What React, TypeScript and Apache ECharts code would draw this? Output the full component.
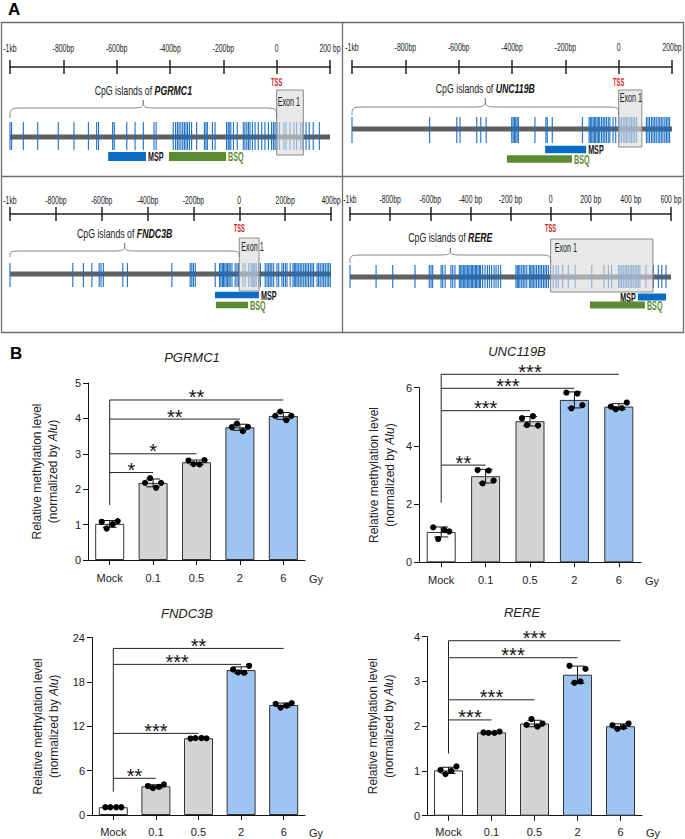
import React, { useEffect, useRef } from 'react';
import * as echarts from 'echarts';

const FONT = '"Liberation Sans", Arial, sans-serif';

// ---------------- Panel A data ----------------
const geneNames = ['PGRMC1', 'UNC119B', 'FNDC3B', 'RERE'];
const rulerMaxBp = [200, 200, 400, 600];
const rulerLabelsPGRMC1 = ['-1kb', '-800bp', '-600bp', '-400bp', '-200bp', '0', '200 bp'];
const rulerLabelsUNC119B = ['-1kb', '-800bp', '-600bp', '-400bp', '-200bp', '0', '200bp'];
const rulerLabelsFNDC3B = ['-1kb', '-800bp', '-600bp', '-400bp', '-200bp', '0', '200bp', '400bp'];
const rulerLabelsRERE = ['-1kb', '-800bp', '-600bp', '-400 bp', '-200 bp', '0', '200 bp', '400 bp', '600 bp'];

const cpgPGRMC1 = [-1000, -994, -950, -896, -819, -760, -706, -675, -668, -615, -609, -562, -531, -500, -460, -452,
  -388, -379, -372, -366, -359, -352, -346, -340, -334, -327, -319, -300, -271, -265, -260, -241, -231, -188, -182,
  -178, -172, -162, -148, -125, -119, -112, -106, -100, -91, -81, -69, -56, -44, -31, -19, -12, -6, 2, 10, 27, 35,
  50, 65, 75, 90, 97, 110, 122, 137, 160];
const cpgUNC119B = [-1000, -709, -607, -595, -532, -517, -497, -401, -396, -391, -386, -381, -376, -314, -273, -268,
  -249, -136, -111, -106, -101, -96, -91, -86, -81, -76, -71, -64, -58, -52, -46, -39, -33, -21, -11, 4, 10, 17, 23,
  29, 35, 42, 48, 54, 60, 67, 104, 110, 116, 123, 129, 135, 141, 148, 154, 160, 166, 173, 179, 185, 191];
const cpgFNDC3B = [-1000, -726, -680, -643, -611, -603, -593, -508, -488, -294, -214, -207, -200, -192, -105, -86,
  -80, -74, -69, -63, -57, -51, -45, -40, -32, -18, -10, -3, 16, 26, 41, 51, 57, 63, 68, 74, 84, 92, 113, 121, 128,
  135, 142, 150, 164, 172, 186, 193, 201, 208, 222, 234, 240, 246, 252, 259, 266, 273, 281, 288, 295, 302, 310, 317,
  324, 339, 346, 353, 361, 368, 375, 383, 390, 397];
const cpgRERE = [-1000, -870, -787, -676, -605, -596, -588, -546, -538, -526, -497, -488, -477, -455, -448, -442,
  -435, -428, -422, -415, -408, -402, -395, -389, -382, -375, -369, -362, -355, -349, -339, -327, -315, -305, -294,
  -282, -272, -261, -249, -173, -166, -159, -153, -144, -136, -128, -119, -106, -99, -93, -86, -78, -70, -61, -53,
  -45, -36, -28, -20, -11, 13, 27, 38, 60, 88, 122, 205, 266, 288, 304, 338, 346, 354, 362, 371, 379, 387, 396, 404,
  412, 421, 429, 437, 445, 475, 512, 537, 554, 575];

const exonPGRMC1 = [0, 100];
const exonUNC119B = [0, 87];
const exonFNDC3B = [0, 86];
const exonRERE = [0, 510];
const mspPGRMC1 = [-632, -490];
const mspUNC119B = [-276, -122];
const mspFNDC3B = [-106, 86];
const mspRERE = [435, 575];
const bsqPGRMC1 = [-404, -190];
const bsqUNC119B = [-419, -175];
const bsqFNDC3B = [-102, 38];
const bsqRERE = [196, 470];
const cpgIslandSpan = [-1000, 0];
const tssBp = 0;

const rulerLabels = [rulerLabelsPGRMC1, rulerLabelsUNC119B, rulerLabelsFNDC3B, rulerLabelsRERE];
const cpgSites = [cpgPGRMC1, cpgUNC119B, cpgFNDC3B, cpgRERE];
const exons = [exonPGRMC1, exonUNC119B, exonFNDC3B, exonRERE];
const msps = [mspPGRMC1, mspUNC119B, mspFNDC3B, mspRERE];
const bsqs = [bsqPGRMC1, bsqUNC119B, bsqFNDC3B, bsqRERE];

// layout (pixel offsets below each ruler)
const quadLayout = [
  { left: 10, width: 320, rulerY: 67, labelDy: -19, tssDy: 15, textDy: 23, braceTip: 33, braceMid: 41, braceEnd: 51, exonTop: 23, exonBot: 88, exonTextDy: 35, exonTextDx: 1, chromDy: 70, tickTop: 55, tickBot: 83, mspDy: 89.5, bsqDy: 89.5, barH: 9, mspLabelLeft: false },
  { left: 352, width: 320, rulerY: 67, labelDy: -20, tssDy: 15, textDy: 21, braceTip: 31, braceMid: 40, braceEnd: 48, exonTop: 23, exonBot: 80, exonTextDy: 31, exonTextDx: 1, chromDy: 62, tickTop: 50, tickBot: 76, mspDy: 82.5, bsqDy: 92, barH: 7.5, mspLabelLeft: false },
  { left: 10, width: 321, rulerY: 214, labelDy: -14, tssDy: 14, textDy: 19, braceTip: 29, braceMid: 37, braceEnd: 43, exonTop: 24, exonBot: 77, exonTextDy: 33, exonTextDx: 2, chromDy: 60, tickTop: 49, tickBot: 73, mspDy: 81, bsqDy: 91, barH: 6.5, mspLabelLeft: false },
  { left: 350, width: 321, rulerY: 214, labelDy: -15, tssDy: 14, textDy: 23, braceTip: 34, braceMid: 41, braceEnd: 49, exonTop: 25, exonBot: 78, exonTextDy: 34, exonTextDx: 4, chromDy: 63, tickTop: 51, tickBot: 74, mspDy: 83, bsqDy: 91, barH: 7, mspLabelLeft: true },
];

// ---------------- Panel B data ----------------
const doses = ['Mock', '0.1', '0.5', '2', '6'];
const barTitles = ['PGRMC1', 'UNC119B', 'FNDC3B', 'RERE'];
const pgrmc1Points = [[1.08, 0.89, 1.01, 1.10], [2.18, 2.31, 2.04, 2.18], [2.81, 2.71, 2.70, 2.82], [3.75, 3.85, 3.64, 3.76], [4.07, 4.19, 3.95, 4.07]];
const unc119bPoints = [[1.2, 0.8, 1.11, 1.06], [3.17, 2.71, 3.15, 2.81], [4.95, 4.72, 5.02, 4.70], [5.83, 5.29, 5.8, 5.4], [5.35, 5.26, 5.30, 5.49]];
const fndc3bPoints = [[1.05, 1.05, 1.05, 1.05], [3.92, 3.65, 3.8, 4.15], [10.35, 10.4, 10.42, 10.38], [19.7, 19.3, 19.25, 20.2], [15.05, 14.55, 14.8, 15.15]];
const rerePoints = [[1.02, 0.93, 1.0, 1.1], [1.86, 1.85, 1.85, 1.88], [2.03, 2.16, 1.99, 2.06], [3.35, 2.97, 3.0, 3.28], [2.02, 1.94, 1.98, 2.06]];
const allPoints = [pgrmc1Points, unc119bPoints, fndc3bPoints, rerePoints];

const yMaxes = [5, 6, 24, 4];
const yIntervals = [1, 2, 6, 1];

const sigTargets = [1, 2, 3, 4];
const pgrmc1SigLevels = [2.47, 3.0, 3.98, 4.52];
const unc119bSigLevels = [3.34, 5.21, 5.98, 6.46];
const fndc3bSigLevels = [4.97, 11.05, 20.39, 22.55];
const rereSigLevels = [2.14, 2.59, 3.53, 3.91];
const pgrmc1SigMarks = ['*', '*', '**', '**'];
const unc119bSigMarks = ['**', '***', '***', '***'];
const fndc3bSigMarks = ['**', '***', '***', '**'];
const rereSigMarks = ['***', '***', '***', '***'];
const sigBases = [1.55, 2.05, 3.15, 1.39];
const sigLevels = [pgrmc1SigLevels, unc119bSigLevels, fndc3bSigLevels, rereSigLevels];
const sigMarks = [pgrmc1SigMarks, unc119bSigMarks, fndc3bSigMarks, rereSigMarks];

const barColors = ['#ffffff', '#d4d4d4', '#d4d4d4', '#9ec4f2', '#9ec4f2'];
const dotOffsets = [-8, -3, 3, 8];

const barLayout = [
  { left: 88, top: 383, width: 217, height: 177, nameGap: 27, titleX: 192, titleY: 357, xMargin: 12 },
  { left: 419, top: 387.7, width: 222, height: 174.6, nameGap: 21, titleX: 517, titleY: 351, xMargin: 12 },
  { left: 92, top: 637.7, width: 213, height: 177.3, nameGap: 30, titleX: 187, titleY: 613, xMargin: 11 },
  { left: 427, top: 636.7, width: 215, height: 179, nameGap: 30, titleX: 522, titleY: 612, xMargin: 11 },
];

function mean(a: number[]) { return a.reduce((s, v) => s + v, 0) / a.length; }
function sd(a: number[]) { const m = mean(a); return Math.sqrt(a.reduce((s, v) => s + (v - m) * (v - m), 0) / (a.length - 1)); }

function txt(x: number, y: number, text: string, o: any, scaleX = 1) {
  return {
    type: 'text', x, y, scaleX,
    style: {
      text, fontFamily: FONT, fill: o.fill || '#222', fontSize: o.fontSize || 12,
      fontWeight: o.fontWeight || 'normal', fontStyle: o.fontStyle || 'normal',
      align: o.align || 'center', verticalAlign: o.verticalAlign || 'middle',
      textAlign: o.align || 'center', textVerticalAlign: o.verticalAlign || 'middle',
      rich: o.rich,
    },
  };
}

function quadrantSeries(q: number) {
  const L = quadLayout[q];
  const base: any = { type: 'custom', xAxisIndex: 2 * q, yAxisIndex: q, silent: true, clip: false };
  const s: any[] = [];
  // ruler labels
  s.push({
    ...base, z: 5,
    data: rulerLabels[q].map((_, i) => [-1000 + 200 * i, 0, i]),
    renderItem: (p: any, api: any) => {
      const c = api.coord([api.value(0), 0]);
      return txt(c[0], c[1] + L.labelDy, rulerLabels[q][api.value(2)], { fontSize: 11.5 }, 0.6);
    },
  });
  // chromosome line
  s.push({
    ...base, z: 2,
    data: [[-1000, rulerMaxBp[q]]],
    renderItem: (p: any, api: any) => {
      const a = api.coord([api.value(0), L.chromDy]);
      const b = api.coord([api.value(1), L.chromDy]);
      return { type: 'rect', shape: { x: a[0], y: a[1] - 2.5, width: b[0] - a[0], height: 5 }, style: { fill: '#606060' } };
    },
  });
  // CpG sites
  s.push({
    ...base, z: 3,
    data: cpgSites[q].map((v) => [v, 0]),
    renderItem: (p: any, api: any) => {
      const a = api.coord([api.value(0), L.tickTop]);
      const b = api.coord([api.value(0), L.tickBot]);
      return { type: 'line', shape: { x1: a[0], y1: a[1], x2: b[0], y2: b[1] }, style: { stroke: '#1b6fc4', lineWidth: 1.1 } };
    },
  });
  // exon box
  s.push({
    ...base, z: 4,
    data: [[exons[q][0], exons[q][1]]],
    renderItem: (p: any, api: any) => {
      const a = api.coord([api.value(0), L.exonTop]);
      const b = api.coord([api.value(1), L.exonBot]);
      return {
        type: 'group', children: [
          { type: 'rect', shape: { x: a[0], y: a[1], width: b[0] - a[0], height: b[1] - a[1] }, style: { fill: 'rgba(218,218,218,0.62)', stroke: '#8a8a8a', lineWidth: 1 } },
          txt(a[0] + L.exonTextDx, L.rulerY + L.exonTextDy, 'Exon 1', { fontSize: 12, align: 'left' }, 0.6),
        ],
      };
    },
  });
  // primers
  s.push({
    ...base, z: 5,
    data: [[msps[q][0], msps[q][1], 0], [bsqs[q][0], bsqs[q][1], 1]],
    renderItem: (p: any, api: any) => {
      const k = api.value(2);
      const dy = k === 0 ? L.mspDy : L.bsqDy;
      const a = api.coord([api.value(0), dy]);
      const b = api.coord([api.value(1), dy]);
      const color = k === 0 ? '#0b6cc5' : '#5b8c32';
      const label = k === 0 ? 'MSP' : 'BSQ';
      const leftLabel = k === 0 && L.mspLabelLeft;
      return {
        type: 'group', children: [
          { type: 'rect', shape: { x: a[0], y: a[1] - L.barH / 2, width: b[0] - a[0], height: L.barH }, style: { fill: color } },
          txt(leftLabel ? a[0] - 2 : b[0] + 2, a[1] + 0.5, label,
            { fontSize: 12, fontWeight: 'bold', fill: k === 0 ? '#111' : '#5b8c32', align: leftLabel ? 'right' : 'left' }, 0.6),
        ],
      };
    },
  });
  // brace + label
  s.push({
    ...base, z: 5,
    data: [[cpgIslandSpan[0], cpgIslandSpan[1]]],
    renderItem: (p: any, api: any) => {
      const x0 = api.coord([api.value(0), 0])[0];
      const x1 = api.coord([api.value(1), 0])[0];
      const xc = (x0 + x1) / 2;
      const yT = L.rulerY + L.braceTip, yM = L.rulerY + L.braceMid, yE = L.rulerY + L.braceEnd;
      const r = 16;
      const d = `M${x0},${yE} C${x0},${yM} ${x0},${yM} ${x0 + r},${yM} L${xc - r},${yM} C${xc},${yM} ${xc},${yM} ${xc},${yT} ` +
        `C${xc},${yM} ${xc},${yM} ${xc + r},${yM} L${x1 - r},${yM} C${x1},${yM} ${x1},${yM} ${x1},${yE}`;
      return {
        type: 'group', children: [
          { type: 'path', shape: { pathData: d }, style: { fill: 'none', stroke: '#777', lineWidth: 0.9 } },
          txt(xc, L.rulerY + L.textDy, `{n|CpG islands of }{b|${geneNames[q]}}`, {
            rich: {
              n: { fontSize: 12, fontFamily: FONT, fill: '#222' },
              b: { fontSize: 12, fontFamily: FONT, fontWeight: 'bold', fontStyle: 'italic', fill: '#111' },
            },
          }, 0.73),
        ],
      };
    },
  });
  // TSS
  s.push({
    ...base, z: 5,
    data: [[tssBp, 0]],
    renderItem: (p: any, api: any) => {
      const c = api.coord([api.value(0), L.tssDy]);
      return txt(c[0], c[1], 'TSS', { fontSize: 11, fontWeight: 'bold', fill: '#d21f1f' }, 0.52);
    },
  });
  return s;
}

function barSeries(i: number) {
  const pts = allPoints[i];
  const means = pts.map(mean);
  const sds = pts.map(sd);
  const xi = 8 + i, yi = 4 + i;
  const levels = sigLevels[i];
  const marks = sigMarks[i];
  return [
    {
      type: 'bar', xAxisIndex: xi, yAxisIndex: yi, barWidth: 29, z: 2,
      data: means.map((m, k) => ({ value: m, itemStyle: { color: barColors[k], borderColor: '#333', borderWidth: 1 } })),
    },
    {
      type: 'custom', xAxisIndex: xi, yAxisIndex: yi, z: 3, clip: false, silent: true,
      data: means.map((m, k) => [k, m, sds[k]]),
      renderItem: (p: any, api: any) => {
        const k = api.value(0), m = api.value(1), s = api.value(2);
        const t = api.coord([k, m + s]);
        const b = api.coord([k, m - s]);
        const w = 7;
        const st = { stroke: '#111', lineWidth: 1 };
        return {
          type: 'group', children: [
            { type: 'line', shape: { x1: t[0], y1: t[1], x2: b[0], y2: b[1] }, style: st },
            { type: 'line', shape: { x1: t[0] - w, y1: t[1], x2: t[0] + w, y2: t[1] }, style: st },
            { type: 'line', shape: { x1: b[0] - w, y1: b[1], x2: b[0] + w, y2: b[1] }, style: st },
          ],
        };
      },
    },
    {
      type: 'custom', xAxisIndex: xi, yAxisIndex: yi, z: 4, clip: false, silent: true,
      data: pts.flatMap((arr, k) => arr.map((v, j) => [k, v, j])),
      renderItem: (p: any, api: any) => {
        const c = api.coord([api.value(0), api.value(1)]);
        return { type: 'circle', shape: { cx: c[0] + dotOffsets[api.value(2)], cy: c[1], r: 3.1 }, style: { fill: '#000' } };
      },
    },
    {
      type: 'custom', xAxisIndex: xi, yAxisIndex: yi, z: 3, clip: false, silent: true,
      data: [[0, sigBases[i], Math.max(...levels)]],
      renderItem: (p: any, api: any) => {
        const a = api.coord([api.value(0), api.value(1)]);
        const b = api.coord([api.value(0), api.value(2)]);
        return { type: 'line', shape: { x1: a[0], y1: a[1], x2: b[0], y2: b[1] }, style: { stroke: '#222', lineWidth: 1 } };
      },
    },
    {
      type: 'custom', xAxisIndex: xi, yAxisIndex: yi, z: 3, clip: false, silent: true,
      data: levels.map((lv, j) => [sigTargets[j], lv, j]),
      renderItem: (p: any, api: any) => {
        const a = api.coord([0, api.value(1)]);
        const b = api.coord([api.value(0), api.value(1)]);
        return {
          type: 'group', children: [
            { type: 'line', shape: { x1: a[0], y1: a[1], x2: b[0], y2: b[1] }, style: { stroke: '#222', lineWidth: 1 } },
            txt((a[0] + b[0]) / 2, a[1] - 2.5, marks[api.value(2)], { fontSize: 20, fill: '#111' }),
          ],
        };
      },
    },
  ];
}

export default function App() {
  const ref = useRef<HTMLDivElement>(null);
  useEffect(() => {
    document.body.style.margin = '0';
    if (!ref.current) return;
    const chart = echarts.init(ref.current, null, { renderer: 'svg' });

    const grids: any[] = [];
    const xAxes: any[] = [];
    const yAxes: any[] = [];
    quadLayout.forEach((L, q) => {
      grids.push({ left: L.left, top: L.rulerY, width: L.width, height: 110, containLabel: false, outerBoundsMode: 'none' });
      const ax: any = {
        type: 'value', gridIndex: q, position: 'top', min: -1000, max: rulerMaxBp[q], interval: 200,
        axisLabel: { show: false }, splitLine: { show: false },
      };
      xAxes.push({ ...ax, axisLine: { show: true, lineStyle: { color: '#222', width: 1.5 } }, axisTick: { show: true, inside: false, length: 7, lineStyle: { color: '#222', width: 1.5 } } });
      xAxes.push({ ...ax, axisLine: { show: false }, axisTick: { show: true, inside: true, length: 7, lineStyle: { color: '#222', width: 1.5 } } });
    });
    quadLayout.forEach((L, q) => {
      yAxes.push({ type: 'value', gridIndex: q, min: 0, max: 110, inverse: true, show: false });
    });
    barLayout.forEach((B, i) => {
      const gi = 4 + i;
      grids.push({ left: B.left, top: B.top, width: B.width, height: B.height, containLabel: false, outerBoundsMode: 'none' });
      xAxes.push({
        type: 'category', gridIndex: gi, data: doses, position: 'bottom', boundaryGap: true,
        axisLine: { show: true, onZero: false, lineStyle: { color: '#111', width: 1 } },
        axisTick: { show: true, alignWithLabel: true, length: 5, lineStyle: { color: '#111' } },
        axisLabel: { fontSize: 11, color: '#222', margin: B.xMargin, fontFamily: FONT, interval: 0 },
        splitLine: { show: false },
        name: 'Gy', nameLocation: 'end', nameGap: 4,
        nameTextStyle: { fontSize: 11, color: '#222', fontFamily: FONT, verticalAlign: 'top', padding: [B.xMargin + 1, 0, 0, 0] },
      });
      yAxes.push({
        type: 'value', gridIndex: gi, min: 0, max: yMaxes[i], interval: yIntervals[i],
        axisLine: { show: true, lineStyle: { color: '#111', width: 1 } },
        axisTick: { show: true, length: 5, lineStyle: { color: '#111' } },
        axisLabel: { fontSize: 11, color: '#222', margin: 7, fontFamily: FONT },
        splitLine: { show: false },
        name: 'Relative methylation level\n(normalized by {i|Alu})',
        nameLocation: 'middle', nameRotate: 90, nameGap: B.nameGap, nameMoveOverlap: false,
        nameTextStyle: {
          fontSize: 12, color: '#222', fontFamily: FONT, lineHeight: 16,
          rich: { i: { fontStyle: 'italic', fontSize: 12, color: '#222', fontFamily: FONT, lineHeight: 16 } },
        },
      });
    });

    const series: any[] = [];
    for (let q = 0; q < 4; q++) series.push(...quadrantSeries(q));
    for (let i = 0; i < 4; i++) series.push(...barSeries(i));

    const graphicEls: any[] = [
      { type: 'rect', shape: { x: 1.5, y: 22.5, width: 682, height: 310 }, style: { fill: 'none', stroke: '#6e6e6e', lineWidth: 1.3 }, silent: true },
      { type: 'line', shape: { x1: 1.5, y1: 176.5, x2: 683.5, y2: 176.5 }, style: { stroke: '#6e6e6e', lineWidth: 1.3 }, silent: true },
      { type: 'line', shape: { x1: 342.5, y1: 22.5, x2: 342.5, y2: 332.5 }, style: { stroke: '#6e6e6e', lineWidth: 1.3 }, silent: true },
      txt(8, 9.5, 'A', { fontSize: 17, fontWeight: 'bold', fill: '#000', align: 'left' }),
      txt(10, 353, 'B', { fontSize: 17, fontWeight: 'bold', fill: '#000', align: 'left' }),
      ...barLayout.map((B, i) => txt(B.titleX, B.titleY, barTitles[i], { fontSize: 13, fontStyle: 'italic', fill: '#222' })),
    ];

    chart.setOption({
      animation: false,
      backgroundColor: '#ffffff',
      grid: grids,
      xAxis: xAxes,
      yAxis: yAxes,
      series,
      graphic: { elements: graphicEls },
    });
    return () => chart.dispose();
  }, []);
  return <div ref={ref} style={{ width: 685, height: 839 }} />;
}
